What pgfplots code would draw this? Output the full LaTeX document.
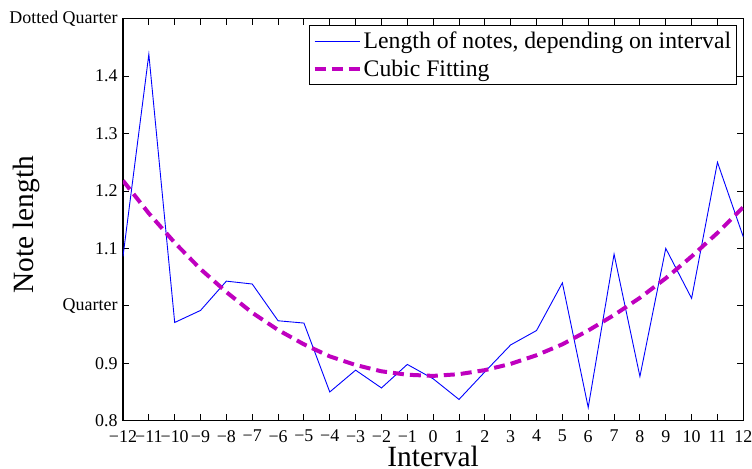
\documentclass[border=0pt]{standalone}
\usepackage{pgfplots}
\pgfplotsset{compat=1.18}
\usepackage{pgfplotstable}
\usepackage{fontspec}
\setmainfont{Liberation Serif}
\definecolor{mblue}{RGB}{0,0,255}
\definecolor{mmag}{RGB}{191,0,191}
\pgfplotstableread{
x y
-12 1.086
-11 1.438
-10 0.971
-9 0.992
-8 1.043
-7 1.038
-6 0.974
-5 0.970
-4 0.850
-3 0.888
-2 0.857
-1 0.898
0 0.873
1 0.837
2 0.885
3 0.932
4 0.957
5 1.040
6 0.823
7 1.090
8 0.877
9 1.100
10 1.013
11 1.250
12 1.120
}\notes
\pgfplotstableread{
x y
-12 1.218
-11 1.161
-10 1.110
-9 1.064
-8 1.024
-7 0.988
-6 0.958
-5 0.933
-4 0.912
-3 0.897
-2 0.886
-1 0.880
0 0.878
1 0.881
2 0.888
3 0.899
4 0.914
5 0.933
6 0.957
7 0.984
8 1.014
9 1.048
10 1.086
11 1.127
12 1.172
}\fit
\begin{document}
\begin{tikzpicture}
\begin{axis}[
  name=ax,
  scale only axis,
  width=620.3bp, height=402bp,
  xmin=-12, xmax=12, ymin=0.8, ymax=1.5,
  axis line style={line width=1.2bp},
  every tick/.style={line width=0.9bp, black},
  tick align=inside,
  major tick length=6.3bp,
  xtick={-12,-11,...,12},
  xticklabels={−12,−11,−10,−9,−8,−7,−6,−5,−4,−3,−2,−1,0,1,2,3,4,5,6,7,8,9,10,11,12},
  ytick={0.8,0.9,1.0,1.1,1.2,1.3,1.4,1.5},
  yticklabels={0.8,0.9,Quarter,1.1,1.2,1.3,1.4,Dotted Quarter},
  tick label style={font=\fontsize{18}{20}\selectfont},
  xticklabel style={inner sep=0pt, yshift=-9.3bp},
  yticklabel style={inner sep=0pt, xshift=-5.3bp},
  xlabel={Interval},
  ylabel={Note length},
  label style={font=\fontsize{29.5}{32}\selectfont},
  xlabel style={at={(axis description cs:0.5,-0.1135)}, anchor=base, inner sep=0pt},
  ylabel style={at={(axis description cs:-0.1548,0.487)}, anchor=center, inner sep=0pt},
  legend style={at={(axis description cs:0.9894,0.9836)}, anchor=north east,
    draw=black, line width=1.2bp, inner xsep=3bp, inner ysep=4.4bp,
    font=\fontsize{23.8}{26}\selectfont,
    nodes={inner sep=2bp}, row sep=5.6bp},
  legend cell align=left,
]
\addplot[mblue, line width=0.9bp,
  legend image code/.code={\draw[mblue, line width=0.9bp] (0bp,0bp) -- (45bp,0bp);}]
  table[x=x,y=y]{\notes};
\addlegendentry{Length of notes, depending on interval}
\addplot[mmag, line width=4bp, dash pattern=on 11bp off 6bp,
  legend image code/.code={\draw[mmag, line width=4bp, dash pattern=on 11bp off 6bp] (0bp,0bp) -- (45bp,0bp);}]
  table[x=x,y=y]{\fit};
\addlegendentry{Cubic Fitting}
\end{axis}
\pgfresetboundingbox
\path[use as bounding box] ([shift={(-123bp,-48.3bp)}]ax.south west) rectangle ([shift={(8.7bp,18.7bp)}]ax.north east);
\end{tikzpicture}
\end{document}
